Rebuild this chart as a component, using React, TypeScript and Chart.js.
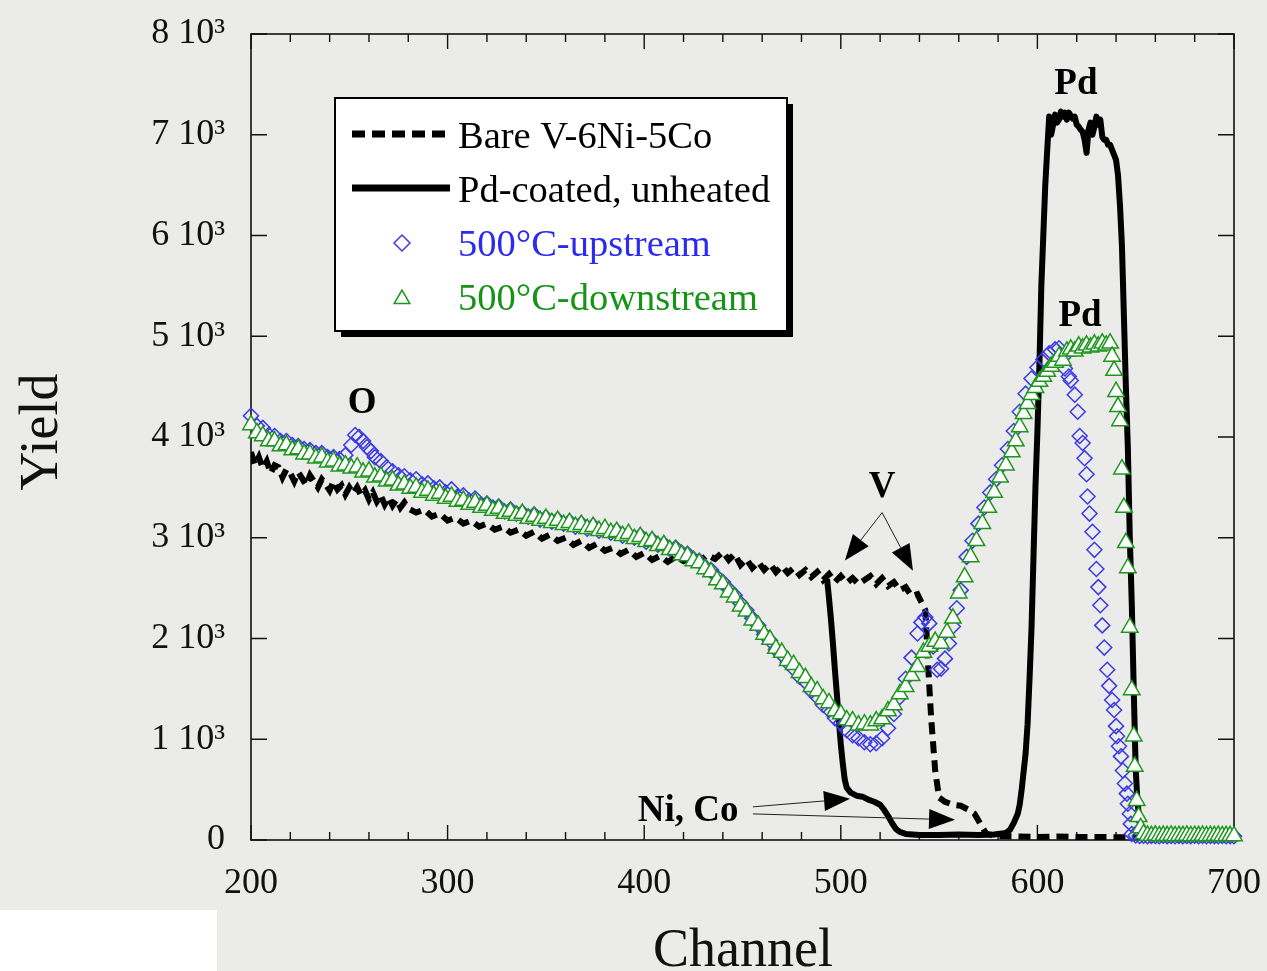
import React, { useEffect, useRef } from "react";
import { Chart, registerables } from "chart.js";

Chart.register(...registerables);

// ---------- data ----------
const xMin = 200;
const xMax = 700;
const xMajorStep = 100;
const xMinorStep = 20;
const yMin = 0;
const yMax = 8000;
const yStep = 1000;
const yTickLabels = ["0", "1 10³", "2 10³", "3 10³", "4 10³", "5 10³", "6 10³", "7 10³", "8 10³"];

const seriesNames = ["Bare V-6Ni-5Co", "Pd-coated, unheated", "500°C-upstream", "500°C-downstream"];

const bareData: [number, number][] = [
  [200, 3850], [202, 3720], [204, 3800], [206, 3690], [208, 3760], [210, 3640], [212, 3720], [214, 3700],
  [216, 3600], [218, 3680], [220, 3640], [222, 3560], [224, 3650], [226, 3590], [228, 3520], [230, 3620],
  [232, 3560], [234, 3500], [236, 3580], [238, 3530], [240, 3470], [242, 3560], [244, 3480], [246, 3520],
  [248, 3430], [250, 3500], [252, 3440], [254, 3500], [256, 3420], [258, 3470], [260, 3380], [262, 3450],
  [264, 3360], [266, 3420], [268, 3330], [270, 3400], [272, 3320], [274, 3380], [276, 3300], [278, 3350],
  [280, 3290], [284, 3250], [288, 3280], [292, 3210], [296, 3240], [300, 3170], [304, 3200], [308, 3140],
  [312, 3170], [316, 3110], [320, 3140], [324, 3080], [328, 3110], [332, 3050], [336, 3080], [340, 3020],
  [344, 3060], [348, 2990], [352, 3030], [356, 2970], [360, 3000], [364, 2930], [368, 2970], [372, 2900],
  [376, 2940], [380, 2870], [384, 2900], [388, 2840], [392, 2880], [396, 2810], [400, 2850], [404, 2780],
  [408, 2820], [412, 2760], [416, 2810], [420, 2770], [424, 2820], [428, 2760], [432, 2830], [436, 2790],
  [440, 2860], [443, 2780], [446, 2840], [449, 2730], [452, 2790], [455, 2700], [458, 2760], [461, 2680],
  [464, 2740], [467, 2660], [470, 2720], [473, 2650], [476, 2700], [479, 2630], [482, 2680], [485, 2610],
  [488, 2660], [491, 2580], [494, 2640], [497, 2560], [500, 2620], [503, 2550], [506, 2600], [509, 2540],
  [512, 2580], [515, 2620], [518, 2540], [521, 2600], [524, 2520], [527, 2560], [530, 2480], [533, 2510],
  [536, 2420], [539, 2440], [541, 2360], [543, 2280], [544.5, 1700], [546, 1200], [548, 690], [550, 420],
  [553, 380], [557, 350], [561, 340], [565, 300], [568, 260], [571, 160], [574, 60], [580, 40], [590, 35],
  [600, 30], [610, 35], [620, 30], [630, 30], [640, 28], [650, 25], [660, 22], [670, 20], [680, 18],
  [690, 16], [700, 15],
];

const pdCoatedData: [number, number][] = [
  [493, 2590], [494, 2400], [495, 2190], [496, 1950], [497, 1690], [498, 1450], [499, 1190], [500, 950],
  [501, 760], [502, 600], [503, 520], [505, 470], [508, 440], [511, 430], [514, 400], [517, 380], [520, 350],
  [522, 300], [524, 240], [526, 170], [528, 110], [530, 80], [533, 60], [540, 50], [550, 50], [560, 55],
  [570, 50], [578, 55], [584, 70], [586, 100], [588, 170], [590, 260], [591, 350], [592, 500], [593, 680],
  [594, 860], [595, 1150], [596, 1600], [597, 2100], [598, 2800], [599, 3500], [600, 4050], [601, 4700],
  [602, 5500], [603, 6000], [604, 6500], [605, 6850], [606, 7180], [607, 7000], [608, 7100], [609, 7200],
  [610, 7120], [611, 7150], [612, 7230], [613, 7180], [614, 7220], [615, 7150], [616, 7220], [617, 7190],
  [618, 7160], [619, 7180], [620, 7100], [621, 7080], [622, 7050], [623, 7030], [624, 6950], [625, 6820],
  [626, 7050], [627, 7120], [628, 7000], [629, 7080], [630, 7180], [631, 7100], [632, 7150], [633, 6980],
  [634, 6950], [635, 6950], [636, 6900], [637, 6900], [638, 6850], [639, 6800], [640, 6750], [641, 6600],
  [642, 6300], [643, 5900], [644, 5200], [645, 4500], [646, 3900], [647, 3000], [648, 2350], [649, 1500],
  [650, 700], [651, 350], [652, 200], [653, 100], [655, 40], [660, 25], [680, 20], [700, 15],
];

const upstreamData: [number, number][] = [
  [200, 4210], [203, 4110], [206, 4090], [209, 4020], [212, 4010], [215, 3960], [218, 3960], [221, 3920],
  [224, 3910], [227, 3880], [230, 3870], [233, 3840], [236, 3840], [239, 3800], [242, 3800], [245, 3780],
  [248, 3820], [251, 3920], [253, 4020], [255, 4000], [257, 3960], [259, 3900], [261, 3860], [263, 3800],
  [266, 3760], [269, 3700], [272, 3660], [275, 3620], [278, 3610], [281, 3570], [284, 3580], [287, 3530],
  [290, 3540], [293, 3490], [296, 3500], [299, 3450], [302, 3480], [305, 3410], [308, 3420], [311, 3370],
  [314, 3390], [317, 3330], [320, 3340], [323, 3300], [326, 3310], [329, 3260], [332, 3280], [335, 3240],
  [338, 3250], [341, 3210], [344, 3230], [347, 3180], [350, 3200], [353, 3160], [356, 3180], [359, 3140],
  [362, 3160], [365, 3110], [368, 3140], [371, 3090], [374, 3120], [377, 3070], [380, 3080], [383, 3050],
  [386, 3070], [389, 3020], [392, 3030], [395, 3000], [398, 3020], [401, 2960], [404, 2980], [407, 2930],
  [410, 2940], [413, 2890], [416, 2900], [419, 2850], [422, 2840], [425, 2790], [428, 2770], [431, 2710],
  [434, 2680], [437, 2610], [440, 2560], [443, 2490], [446, 2430], [449, 2350], [452, 2280], [455, 2200],
  [458, 2130], [461, 2040], [464, 1980], [467, 1890], [470, 1840], [473, 1760], [476, 1700], [479, 1620],
  [482, 1570], [485, 1480], [488, 1420], [491, 1340], [494, 1290], [497, 1210], [500, 1160], [503, 1090],
  [506, 1040], [509, 1010], [512, 970], [515, 950], [518, 960], [521, 1010], [524, 1110], [527, 1250],
  [530, 1420], [533, 1600], [536, 1810], [539, 2050], [541, 2160], [543, 2210], [545, 2150], [547, 1920],
  [549, 1690], [551, 1700], [553, 1800], [555, 1950], [557, 2120], [559, 2300], [561, 2480], [564, 2810],
  [567, 2970], [570, 3140], [573, 3300], [576, 3450], [579, 3580], [582, 3720], [585, 3880], [588, 4060],
  [591, 4250], [594, 4430], [597, 4580], [600, 4690], [603, 4770], [606, 4830], [609, 4870], [611, 4880],
  [613, 4790], [614, 4680], [616, 4600], [617, 4560], [619, 4420], [620.5, 4250], [621.5, 4010], [623, 3940],
  [624, 3790], [625, 3630], [625.5, 3410], [626.5, 3240], [628, 3060], [629, 2880], [630, 2690], [631, 2510],
  [632, 2330], [633, 2130], [634, 1910], [635.5, 1690], [636.5, 1530], [638, 1390], [639, 1290], [640, 1130],
  [640.5, 1030], [641.5, 930], [642.5, 830], [643.5, 690], [644.5, 560], [645.5, 460], [646, 360], [647, 260],
  [647.5, 160], [648, 60], [650, 45], [652, 40], [654, 42], [656, 38], [658, 41], [660, 40], [662, 37],
  [664, 42], [666, 39], [668, 40], [670, 38], [672, 41], [674, 37], [676, 40], [678, 39], [680, 42],
  [682, 38], [684, 40], [686, 37], [688, 41], [690, 39], [692, 38], [694, 40], [696, 37], [698, 39], [700, 38],
];

const downstreamData: [number, number][] = [
  [200, 4120], [203, 4040], [206, 4010], [209, 3960], [212, 3960], [215, 3910], [218, 3920], [221, 3870],
  [224, 3880], [227, 3830], [230, 3830], [233, 3790], [236, 3800], [239, 3750], [242, 3760], [245, 3710],
  [248, 3720], [251, 3690], [254, 3700], [257, 3650], [260, 3660], [263, 3600], [266, 3610], [269, 3560],
  [272, 3570], [275, 3520], [278, 3530], [281, 3490], [284, 3500], [287, 3450], [290, 3470], [293, 3420],
  [296, 3440], [299, 3390], [302, 3410], [305, 3360], [308, 3370], [311, 3330], [314, 3350], [317, 3300],
  [320, 3320], [323, 3270], [326, 3290], [329, 3240], [332, 3260], [335, 3220], [338, 3240], [341, 3190],
  [344, 3210], [347, 3170], [350, 3190], [353, 3150], [356, 3170], [359, 3130], [362, 3150], [365, 3110],
  [368, 3130], [371, 3090], [374, 3110], [377, 3070], [380, 3090], [383, 3050], [386, 3060], [389, 3020],
  [392, 3040], [395, 2990], [398, 3010], [401, 2960], [404, 2970], [407, 2920], [410, 2930], [413, 2880],
  [416, 2880], [419, 2830], [422, 2820], [425, 2770], [428, 2750], [431, 2690], [434, 2660], [437, 2580],
  [440, 2540], [443, 2460], [446, 2410], [449, 2320], [452, 2270], [455, 2180], [458, 2130], [461, 2040],
  [464, 1990], [467, 1900], [470, 1860], [473, 1780], [476, 1740], [479, 1660], [482, 1610], [485, 1520],
  [488, 1480], [491, 1400], [494, 1360], [497, 1280], [500, 1250], [503, 1190], [506, 1180], [509, 1140],
  [512, 1150], [515, 1140], [518, 1180], [521, 1200], [524, 1280], [527, 1340], [530, 1450], [533, 1520],
  [536, 1630], [539, 1720], [542, 1860], [545, 1920], [548, 1970], [551, 1950], [554, 2060], [557, 2200],
  [560, 2450], [563, 2610], [566, 2810], [569, 2970], [572, 3140], [575, 3300], [578, 3450], [581, 3600],
  [584, 3720], [587, 3850], [589, 3960], [591, 4100], [593, 4230], [595, 4330], [597, 4420], [599, 4490],
  [601, 4550], [603, 4600], [605, 4650], [607, 4700], [609, 4740], [611, 4800], [613, 4760], [615, 4850],
  [617, 4870], [619, 4850], [621, 4900], [623, 4880], [625, 4910], [627, 4890], [629, 4920], [631, 4900],
  [633, 4930], [635, 4910], [637, 4930], [638, 4800], [639, 4660], [640, 4450], [641, 4300], [642, 4160],
  [643, 3680], [644, 3300], [645, 2950], [646, 2700], [647, 2110], [648, 1490], [649, 1030], [649.5, 730],
  [650.5, 390], [651.5, 230], [652.5, 120], [654, 60], [656, 45], [658, 42], [660, 46], [662, 40],
  [664, 44], [666, 41], [668, 45], [670, 40], [672, 43], [674, 41], [676, 45], [678, 40], [680, 43],
  [682, 41], [684, 44], [686, 40], [688, 43], [690, 41], [692, 44], [694, 40], [696, 42], [698, 41], [700, 40],
];

// annotation labels (data coordinates)
const textLabels: { text: string; x: number; y: number }[] = [
  { text: "Pd", x: 619.6, y: 7521 },
  { text: "Pd", x: 621.7, y: 5217 },
  { text: "O", x: 256.5, y: 4349 },
  { text: "V", x: 521, y: 3520 },
  { text: "Ni, Co", x: 422.3, y: 299 },
];

const arrowList: { from: [number, number]; to: [number, number] }[] = [
  { from: [521, 3250], to: [502.1, 2773] },
  { from: [521, 3250], to: [536.7, 2673] },
  { from: [455.3, 329], to: [504.7, 409] },
  { from: [455.3, 259], to: [558.1, 200] },
];

const BLUE = "#3a3ae6";
const BLUE_TEXT = "#2a2af0";
const GREEN = "#1e961e";
const GREEN_TEXT = "#179417";
const SERIF = "'Liberation Serif', 'Times New Roman', serif";

const toXY = (d: [number, number][]) => d.map(([x, y]) => ({ x, y }));

function drawDiamond(ctx: CanvasRenderingContext2D, x: number, y: number, r: number) {
  ctx.beginPath();
  ctx.moveTo(x, y - r);
  ctx.lineTo(x + r, y);
  ctx.lineTo(x, y + r);
  ctx.lineTo(x - r, y);
  ctx.closePath();
}
function drawTriangle(ctx: CanvasRenderingContext2D, x: number, y: number, r: number) {
  ctx.beginPath();
  ctx.moveTo(x, y - r);
  ctx.lineTo(x + r * Math.sin((2 * Math.PI) / 3), y + r / 2);
  ctx.lineTo(x - r * Math.sin((2 * Math.PI) / 3), y + r / 2);
  ctx.closePath();
}

const framePlugin = {
  id: "framePlugin",
  beforeDatasetsDraw(chart: any) {
    const { ctx, chartArea: a, scales } = chart;
    const xs = scales.x;
    const ys = scales.y;
    ctx.save();
    ctx.strokeStyle = "#111";
    ctx.lineWidth = 1.6;
    ctx.strokeRect(a.left, a.top, a.right - a.left, a.bottom - a.top);
    ctx.lineWidth = 1.4;
    ctx.beginPath();
    for (let v = xMin; v <= xMax; v += xMinorStep) {
      const px = xs.getPixelForValue(v);
      const len = (v - xMin) % xMajorStep === 0 ? 15 : 8;
      ctx.moveTo(px, a.bottom);
      ctx.lineTo(px, a.bottom - len);
      ctx.moveTo(px, a.top);
      ctx.lineTo(px, a.top + len);
    }
    for (let v = yMin; v <= yMax; v += yStep) {
      const py = ys.getPixelForValue(v);
      ctx.moveTo(a.left, py);
      ctx.lineTo(a.left + 16, py);
      ctx.moveTo(a.right, py);
      ctx.lineTo(a.right - 16, py);
    }
    ctx.stroke();
    ctx.restore();
  },
  afterDraw(chart: any) {
    const { ctx, chartArea: a, scales } = chart;
    const xs = scales.x;
    const ys = scales.y;
    ctx.save();
    // arrows
    ctx.strokeStyle = "#222";
    ctx.fillStyle = "#000";
    ctx.lineWidth = 1;
    arrowList.forEach((ar) => {
      const x1 = xs.getPixelForValue(ar.from[0]);
      const y1 = ys.getPixelForValue(ar.from[1]);
      const x2 = xs.getPixelForValue(ar.to[0]);
      const y2 = ys.getPixelForValue(ar.to[1]);
      const ang = Math.atan2(y2 - y1, x2 - x1);
      const L = 26;
      const W = 10;
      const bx = x2 - L * Math.cos(ang);
      const by = y2 - L * Math.sin(ang);
      ctx.beginPath();
      ctx.moveTo(x1, y1);
      ctx.lineTo(bx, by);
      ctx.stroke();
      ctx.beginPath();
      ctx.moveTo(x2, y2);
      ctx.lineTo(bx + W * Math.sin(ang), by - W * Math.cos(ang));
      ctx.lineTo(bx - W * Math.sin(ang), by + W * Math.cos(ang));
      ctx.closePath();
      ctx.fill();
    });
    // labels
    ctx.font = `bold 37px ${SERIF}`;
    ctx.textAlign = "center";
    ctx.textBaseline = "middle";
    ctx.fillStyle = "#000";
    textLabels.forEach((t) => {
      ctx.fillText(t.text, xs.getPixelForValue(t.x), ys.getPixelForValue(t.y) + 2);
    });

    // legend
    const lx = a.left + 84;
    const ly = a.top + 64;
    const lw = 452;
    const lh = 233;
    ctx.fillStyle = "#000";
    ctx.fillRect(lx + 6, ly + 6, lw, lh);
    ctx.fillStyle = "#fff";
    ctx.fillRect(lx, ly, lw, lh);
    ctx.strokeStyle = "#000";
    ctx.lineWidth = 2;
    ctx.strokeRect(lx, ly, lw, lh);

    const sx1 = lx + 17;
    const sx2 = lx + 115;
    const tx = lx + 123;
    // dashed sample
    ctx.lineWidth = 7;
    ctx.strokeStyle = "#000";
    ctx.setLineDash([13, 7]);
    ctx.beginPath();
    ctx.moveTo(sx1, ly + 36);
    ctx.lineTo(sx2, ly + 36);
    ctx.stroke();
    ctx.setLineDash([]);
    ctx.beginPath();
    ctx.moveTo(sx1, ly + 90);
    ctx.lineTo(sx2, ly + 90);
    ctx.stroke();
    // markers
    ctx.lineWidth = 1.5;
    ctx.strokeStyle = BLUE;
    drawDiamond(ctx, lx + 67, ly + 145, 8);
    ctx.stroke();
    ctx.strokeStyle = GREEN;
    ctx.fillStyle = "#fff";
    drawTriangle(ctx, lx + 67, ly + 201, 9);
    ctx.fill();
    ctx.stroke();

    ctx.font = `38.5px ${SERIF}`;
    ctx.textAlign = "left";
    ctx.textBaseline = "alphabetic";
    ctx.fillStyle = "#000";
    ctx.fillText(seriesNames[0], tx, ly + 50);
    ctx.fillText(seriesNames[1], tx, ly + 104);
    ctx.fillStyle = BLUE_TEXT;
    ctx.fillText(seriesNames[2], tx, ly + 158);
    ctx.fillStyle = GREEN_TEXT;
    ctx.fillText(seriesNames[3], tx, ly + 212);

    // axis titles
    ctx.fillStyle = "#111";
    ctx.font = `54px ${SERIF}`;
    ctx.textAlign = "center";
    ctx.textBaseline = "alphabetic";
    ctx.fillText("Channel", 743, 966);
    ctx.translate(57, 432);
    ctx.rotate(-Math.PI / 2);
    ctx.fillText("Yield", 0, 0);
    ctx.restore();
  },
};

export default function App() {
  const ref = useRef<HTMLCanvasElement | null>(null);
  useEffect(() => {
    if (!ref.current) return;
    const chart = new Chart(ref.current, {
      type: "scatter",
      data: {
        datasets: [
          {
            label: seriesNames[3],
            data: toXY(downstreamData),
            showLine: false,
            pointStyle: "triangle",
            pointRadius: 9.5,
            borderWidth: 1.5,
            borderColor: GREEN,
            backgroundColor: "#ffffff",
            order: 0,
            clip: 12,
          } as any,
          {
            label: seriesNames[2],
            data: toXY(upstreamData),
            showLine: false,
            pointStyle: "rectRot",
            pointRadius: 7.5,
            borderWidth: 1.5,
            borderColor: BLUE,
            backgroundColor: "rgba(0,0,0,0)",
            order: 1,
            clip: 12,
          } as any,
          {
            label: seriesNames[1],
            data: toXY(pdCoatedData),
            showLine: true,
            pointRadius: 0,
            borderWidth: 6,
            borderColor: "#000",
            borderJoinStyle: "round",
            tension: 0,
            order: 2,
          } as any,
          {
            label: seriesNames[0],
            data: toXY(bareData),
            showLine: true,
            pointRadius: 0,
            borderWidth: 6,
            borderColor: "#000",
            borderDash: [12, 7],
            tension: 0,
            order: 3,
          } as any,
        ],
      },
      options: {
        animation: false,
        responsive: false,
        maintainAspectRatio: false,
        layout: { padding: { left: 0, top: 34, right: 33, bottom: 0 } },
        plugins: { legend: { display: false }, tooltip: { enabled: false } },
        scales: {
          x: {
            type: "linear",
            min: xMin,
            max: xMax,
            grid: { display: false, drawTicks: false },
            border: { display: false },
            ticks: {
              stepSize: xMajorStep,
              padding: 22,
              color: "#111",
              font: { family: SERIF, size: 36 },
              maxRotation: 0,
            },
            afterFit: (s: any) => {
              s.height = 131;
              s.paddingLeft = 0;
              s.paddingRight = 0;
            },
          },
          y: {
            type: "linear",
            min: yMin,
            max: yMax,
            grid: { display: false, drawTicks: false },
            border: { display: false },
            ticks: {
              stepSize: yStep,
              padding: 26,
              color: "#111",
              font: { family: SERIF, size: 36 },
              callback: (v: any) => yTickLabels[Math.round(Number(v) / yStep)],
            },
            afterFit: (s: any) => {
              s.width = 251;
              s.paddingTop = 0;
              s.paddingBottom = 0;
            },
          },
        },
      } as any,
      plugins: [framePlugin],
    });
    return () => chart.destroy();
  }, []);

  return (
    <div
      style={{
        position: "absolute",
        left: 0,
        top: 0,
        width: 1267,
        height: 971,
        background: "#ebebe9",
        overflow: "hidden",
      }}
    >
      <div style={{ position: "absolute", left: 0, top: 910, width: 217, height: 61, background: "#fff" }} />
      <canvas ref={ref} width={1267} height={971} style={{ position: "absolute", left: 0, top: 0 }} />
    </div>
  );
}
